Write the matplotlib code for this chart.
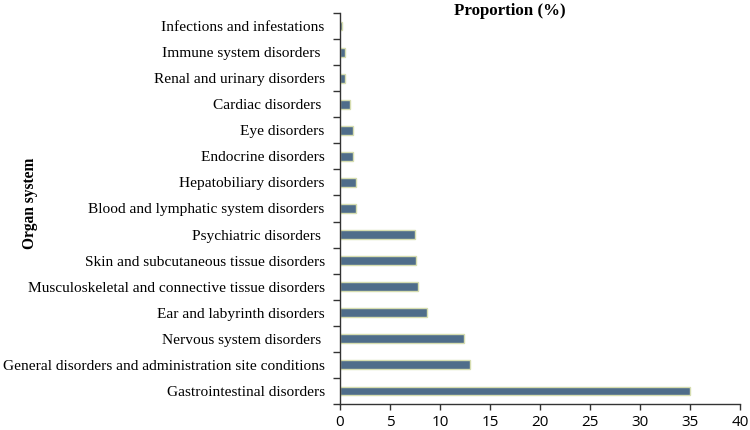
import matplotlib.pyplot as plt
import numpy as np

# organ systems, top to bottom as drawn
organs = [
    "Infections and infestations",
    "Immune system disorders ",
    "Renal and urinary disorders",
    "Cardiac disorders ",
    "Eye disorders",
    "Endocrine disorders",
    "Hepatobiliary disorders",
    "Blood and lymphatic system disorders",
    "Psychiatric disorders ",
    "Skin and subcutaneous tissue disorders",
    "Musculoskeletal and connective tissue disorders",
    "Ear and labyrinth disorders",
    "Nervous system disorders ",
    "General disorders and administration site conditions",
    "Gastrointestinal disorders",
]
proportion = [0.2, 0.45, 0.45, 1.0, 1.3, 1.3, 1.6, 1.6,
              7.5, 7.6, 7.8, 8.7, 12.4, 13.0, 35.0]
x_ticks = [0, 5, 10, 15, 20, 25, 30, 35, 40]

fig = plt.figure(figsize=(7.5, 4.3), dpi=100)
ax = fig.add_axes([340 / 750, 1 - 404 / 430, 400 / 750, 391 / 430])

ypos = np.arange(len(organs))
ax.barh(ypos, proportion, height=0.34, color="#4f6d8a",
        edgecolor="#d6ddb0", linewidth=1.0)

ax.set_ylim(len(organs) - 0.5, -0.5)
ax.set_xlim(0, 40)

ax.set_yticks(ypos)
ax.set_yticklabels(organs, family="Liberation Serif", fontsize=11.1)
ax.tick_params(axis="y", which="major", length=0, pad=11)
ax.set_yticks(np.arange(len(organs) + 1) - 0.5, minor=True)
ax.tick_params(axis="y", which="minor", length=5, width=1, color="#333333")

ax.set_xticks(x_ticks)
ax.set_xticklabels([str(t) for t in x_ticks], family="Open Sans", fontsize=11)
ax.tick_params(axis="x", length=4, width=1, color="#333333", pad=4)

for side in ["top", "right"]:
    ax.spines[side].set_visible(False)
for side in ["left", "bottom"]:
    ax.spines[side].set_color("#333333")
    ax.spines[side].set_linewidth(1.0)

fig.text(510 / 750, 1 - 11 / 430, "Proportion (%)", family="Liberation Serif",
         fontweight="bold", fontsize=12.2, ha="center", va="center")
fig.text(30 / 750, 1 - 203 / 430, "Organ system", family="Liberation Serif",
         fontweight="bold", fontsize=11.2, rotation=90, ha="center", va="center")

fig.savefig("out.png", dpi=100)
